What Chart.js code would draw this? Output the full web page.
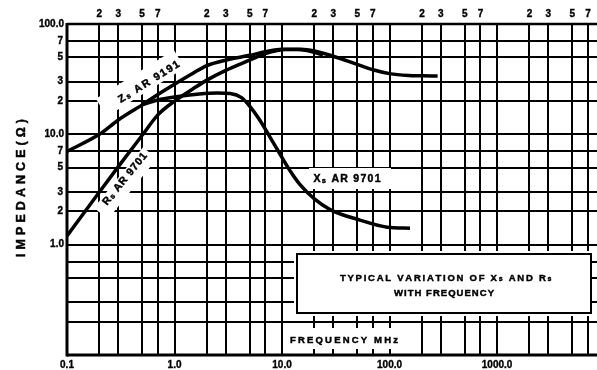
<!DOCTYPE html>
<html>
<head>
<meta charset="utf-8">
<script src="https://cdn.jsdelivr.net/npm/chart.js@4/dist/chart.umd.min.js"></script>
<style>
  html, body { margin: 0; padding: 0; background: #fff; }
  #wrap { width: 597px; height: 370px; position: relative; }
</style>
</head>
<body>
<div id="wrap"><canvas id="c" width="597" height="370"></canvas></div>
<script>
// Frequency (MHz) and impedance (ohm) readings for each curve
const zsFreq = [0.1, 0.2, 0.3, 0.5, 0.7, 1, 1.5, 2, 3, 5, 7, 10, 15, 20, 24];
const zsImpedance = [7.0, 10, 13.5, 18.5, 23, 28.5, 36, 42, 47, 52, 56, 59, 58.5, 55.5, 52];

const rsFreq = [0.1, 0.2, 0.3, 0.5, 0.7, 1, 1.5, 2, 3, 5, 7, 10, 15, 20, 30, 50, 70, 100, 150, 200, 280];
const rsImpedance = [1.2, 3.0, 5.1, 9.8, 15, 20, 26, 31, 38, 47, 54, 58.5, 59, 57, 51, 43, 38.5, 35.5, 34.2, 34, 33.8];

const xsFreq = [0.5, 0.7, 1, 1.7, 2.5, 3.3, 4.2, 5, 6.2, 7.7, 9.6, 12, 14.7, 20, 28, 53, 95, 155];
const xsImpedance = [18.5, 20.5, 21.8, 23.2, 23.7, 23.4, 21.5, 18, 13.5, 9.5, 6.6, 4.6, 3.5, 2.6, 2.08, 1.67, 1.44, 1.41];

// Axis ranges and tick text
const freqMin = 0.1, freqMax = 8500;
const impMin = 0.1, impMax = 100;
const gridSteps = [1, 2, 3, 5, 7];
const freqDecades = [0.1, 1, 10, 100, 1000];
const impDecades = [0.1, 1, 10];
const topTickLabels = ['2', '3', '5', '7'];
const bottomTickLabels = ['0.1', '1.0', '10.0', '100.0', '1000.0'];
const leftDecadeValues = [1, 10, 100];
const leftDecadeLabels = ['1.0', '10.0', '100.0'];
const leftMinorLabels = ['2', '3', '5', '7'];

const FONT = '"Liberation Sans", Arial, sans-serif';

// Curve name plates: position, angle, text runs and the cleared patch of grid behind them
const namePlates = [
  { runs: [['X', 10.5], ['s', 7.5, 1.5], [' AR 9701', 10.5]], x: 347, y: 179, angle: 0, width: 67,
    clear: [-38, 44, -11, 10] },
  { runs: [['Z', 10.5], ['s', 7.5, 1.5], [' AR 9191', 10.5]], x: 149, y: 82, angle: -32, width: 70,
    clear: [-54, 38, -14, 7] },
  { runs: [['R', 10.5], ['s', 7.5, 1.5], [' AR 9701', 10.5]], x: 125, y: 179, angle: -51, width: 64,
    clear: [-42, 36, -6, 12] }
];

const toPoints = (xs, ys) => xs.map((x, i) => ({ x, y: ys[i] }));

function setSpacing(ctx, px) {
  if ('letterSpacing' in ctx) ctx.letterSpacing = px + 'px';
}

// Draw text runs [text, size, dy] centred on (cx, cy), spread to a given width
function drawRuns(ctx, runs, cx, cy, width) {
  setSpacing(ctx, 0);
  let raw = 0, chars = 0;
  runs.forEach(([t, size]) => {
    ctx.font = 'bold ' + size + 'px ' + FONT;
    raw += ctx.measureText(t).width;
    chars += t.length;
  });
  const ls = Math.max(0, (width - raw) / Math.max(1, chars - 1));
  let x = cx - Math.max(width, raw) / 2;
  ctx.textBaseline = 'middle';
  ctx.textAlign = 'left';
  ctx.lineWidth = 0.45;
  runs.forEach(([t, size, dy]) => {
    ctx.font = 'bold ' + size + 'px ' + FONT;
    for (const ch of t) {
      ctx.fillText(ch, x, cy + (dy || 0));
      ctx.strokeText(ch, x, cy + (dy || 0));
      x += ctx.measureText(ch).width + ls;
    }
  });
}

function label(ctx, text, x, y, size, align) {
  setSpacing(ctx, 0);
  ctx.font = 'bold ' + size + 'px ' + FONT;
  ctx.textAlign = align || 'center';
  ctx.textBaseline = 'middle';
  ctx.lineWidth = 0.35;
  ctx.fillText(text, x, y);
  ctx.strokeText(text, x, y);
}

const paper = {
  id: 'paper',
  beforeDatasetsDraw(chart) {
    const { ctx, chartArea: ca } = chart;
    const sx = chart.scales.x, sy = chart.scales.y;
    const X = v => Math.round(sx.getPixelForValue(v));
    const Y = v => Math.round(sy.getPixelForValue(v));
    const seg = (x1, y1, x2, y2, w) => {
      ctx.lineWidth = w || 2;
      ctx.beginPath(); ctx.moveTo(x1, y1); ctx.lineTo(x2, y2); ctx.stroke();
    };
    ctx.save();
    ctx.strokeStyle = '#000';
    ctx.fillStyle = '#000';

    const xLines = [];
    freqDecades.forEach(d => gridSteps.forEach(s => {
      const v = +(d * s).toPrecision(3);
      if (v <= freqMax) xLines.push(v);
    }));
    const yLines = [];
    impDecades.forEach(d => gridSteps.forEach(s => yLines.push(+(d * s).toPrecision(3))));
    yLines.push(impMax);

    // lower band right of 10 MHz is left open for the caption box
    const openFreq = 10, openImp = 1;
    const boxL = X(openFreq) + 15, boxR = X(7000) + 3;
    const boxT = Y(openImp) + 9, boxB = Y(0.2) - 9;

    yLines.forEach(v => {
      const y = Y(v);
      if (v >= openImp || v === 0.2) seg(ca.left, y, ca.right, y, 2);
      else if (v > 0.1) {
        seg(ca.left, y, X(openFreq) + 12, y, 2);
        seg(boxR + 1, y, ca.right, y, 2);
      }
    });

    xLines.forEach(v => {
      const x = X(v);
      seg(x, ca.top, x, Y(openImp), 2);
      if (v <= openFreq) {
        seg(x, Y(openImp), x, ca.bottom, 2);
      } else {
        seg(x, Y(openImp), x, Y(openImp) + 6, 2);
        seg(x, Y(0.2) - 6, x, Y(0.2) + 6, 2);
        if (v >= 200) seg(x, Y(0.2), x, ca.bottom, 2);
        else seg(x, ca.bottom - 6, x, ca.bottom, 2);
      }
    });

    // cleared patches of grid behind the curve names
    ctx.fillStyle = '#fff';
    namePlates.forEach(p => {
      const [u0, u1, v0, v1] = p.clear;
      ctx.save();
      ctx.translate(p.x, p.y);
      ctx.rotate(p.angle * Math.PI / 180);
      ctx.fillRect(u0, v0, u1 - u0, v1 - v0);
      ctx.restore();
    });

    // frame
    seg(ca.left, ca.top, ca.right, ca.top, 2.5);
    seg(ca.left, ca.bottom, ca.right, ca.bottom, 3);
    seg(ca.left, ca.top - 1, ca.left, ca.bottom + 1.5, 3);

    // caption box
    ctx.fillStyle = '#fff';
    ctx.fillRect(boxL, boxT, boxR - boxL, boxB - boxT);
    ctx.lineWidth = 2;
    ctx.strokeRect(boxL, boxT, boxR - boxL, boxB - boxT);
    ctx.restore();
  },
  afterDatasetsDraw(chart) {
    const { ctx, chartArea: ca } = chart;
    const sx = chart.scales.x, sy = chart.scales.y;
    const X = v => sx.getPixelForValue(v);
    const Y = v => sy.getPixelForValue(v);
    ctx.save();
    ctx.fillStyle = '#000';
    ctx.strokeStyle = '#000';

    // top frequency multipliers
    freqDecades.forEach(d => {
      topTickLabels.forEach(t => {
        const v = d * Number(t);
        if (v <= freqMax) label(ctx, t, X(v), ca.top - 10, 10);
      });
    });
    // bottom decade labels
    freqDecades.forEach((d, i) => label(ctx, bottomTickLabels[i], X(d), ca.bottom + 10, 10));

    // left impedance labels
    leftDecadeValues.forEach((v, i) => label(ctx, leftDecadeLabels[i], ca.left - 3, Y(v), 10, 'right'));
    [1, 10].forEach(d => leftMinorLabels.forEach(t => {
      label(ctx, t, ca.left - 4, Y(d * Number(t)), 10, 'right');
    }));

    // axis titles
    ctx.save();
    ctx.translate(22, 188);
    ctx.rotate(-Math.PI / 2);
    drawRuns(ctx, [['IMPEDANCE(\u03A9)', 12.5]], 0, 0, 138);
    ctx.restore();
    drawRuns(ctx, [['FREQUENCY MHz', 9.5]], 344, ca.bottom - 15, 108);

    // caption
    const cx = (X(10) + 15 + X(7000) + 3) / 2;
    drawRuns(ctx, [['TYPICAL VARIATION OF X', 9.5], ['s', 7, 1.5], [' AND R', 9.5], ['s', 7, 1.5]], cx + 1, 278, 210);
    drawRuns(ctx, [['WITH FREQUENCY', 9.5]], cx, 293, 100);

    // curve names
    namePlates.forEach(p => {
      ctx.save();
      ctx.translate(p.x, p.y);
      ctx.rotate(p.angle * Math.PI / 180);
      drawRuns(ctx, p.runs, 0, 0, p.width);
      ctx.restore();
    });

    ctx.restore();
  }
};

const curveStyle = {
  borderColor: '#000',
  borderWidth: 3.5,
  pointRadius: 0,
  showLine: true,
  fill: false,
  tension: 0.4,
  cubicInterpolationMode: 'monotone'
};

new Chart(document.getElementById('c'), {
  type: 'scatter',
  data: {
    datasets: [
      Object.assign({ label: 'Zs AR 9191', data: toPoints(zsFreq, zsImpedance) }, curveStyle),
      Object.assign({ label: 'Rs AR 9701', data: toPoints(rsFreq, rsImpedance) }, curveStyle),
      Object.assign({ label: 'Xs AR 9701', data: toPoints(xsFreq, xsImpedance) }, curveStyle)
    ]
  },
  options: {
    responsive: false,
    animation: false,
    devicePixelRatio: 1,
    layout: { padding: { left: 67, top: 24, right: 0, bottom: 15 } },
    scales: {
      x: { type: 'logarithmic', min: freqMin, max: freqMax, display: false },
      y: { type: 'logarithmic', min: impMin, max: impMax, display: false }
    },
    plugins: { legend: { display: false }, tooltip: { enabled: false } }
  },
  plugins: [paper]
});
</script>
</body>
</html>
